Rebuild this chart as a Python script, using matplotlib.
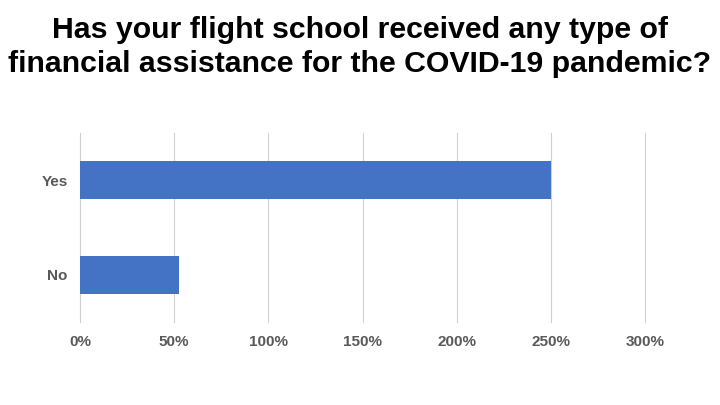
import matplotlib
matplotlib.use("Agg")
import matplotlib.pyplot as plt
from matplotlib.ticker import FuncFormatter

plt.rcParams['font.family'] = ['Liberation Sans', 'DejaVu Sans']

categories = ["Yes", "No"]
values = [250, 52.6]
xticks = [0, 50, 100, 150, 200, 250, 300]
title = "Has your flight school received any type of\nfinancial assistance for the COVID-19 pandemic?"

fig = plt.figure(figsize=(7.2, 4.05), dpi=100)
ax = fig.add_axes([80 / 720, 1 - 322 / 405, 565 / 720, 189 / 405])

ypos = list(range(len(categories)))
ax.barh(ypos, values, height=0.4, color="#4472C4", zorder=3)
ax.set_ylim(len(categories) - 0.5, -0.5)
ax.set_yticks(ypos)
ax.set_yticklabels(categories)
ax.set_xlim(0, 300)
ax.set_xticks(xticks)
ax.xaxis.set_major_formatter(FuncFormatter(lambda v, p: f"{v:.0f}%"))

ax.grid(axis="x", color="#d0d0d0", linewidth=0.8, zorder=0)
for gl in ax.get_xgridlines():
    gl.set_clip_on(False)
for s in ax.spines.values():
    s.set_visible(False)
ax.tick_params(length=0, labelsize=11, labelcolor="#595959")
ax.tick_params(axis="x", pad=9)
ax.tick_params(axis="y", pad=9)
for lab in ax.get_xticklabels() + ax.get_yticklabels():
    lab.set_fontweight("bold")

fig.text(0.5, 1 - 47 / 405, title, ha="center", va="center", fontsize=21.8,
         fontweight="bold", color="black", linespacing=1.25)

fig.savefig("out.png", dpi=100)
